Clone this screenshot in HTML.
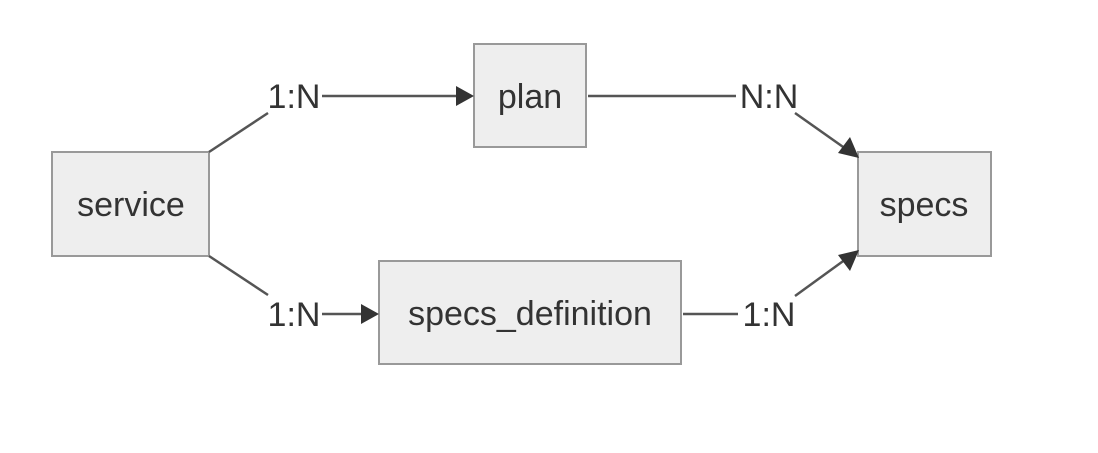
<!DOCTYPE html>
<html><head><style>
html,body{margin:0;padding:0;background:#fff;}
svg text{font-family:"Liberation Sans",sans-serif;fill:#333;}
</style></head><body>
<svg width="1098" height="448" viewBox="0 0 1098 448" xmlns="http://www.w3.org/2000/svg">
<g stroke="#999" stroke-width="2" fill="#eee">
<rect x="52" y="152" width="157" height="104"/>
<rect x="474" y="44" width="112" height="103"/>
<rect x="858" y="152" width="133" height="104"/>
<rect x="379" y="261" width="302" height="103"/>
</g>
<g stroke="#555" stroke-width="2.5" fill="none">
<polyline points="209,152 268,113"/>
<line x1="322" y1="96" x2="458" y2="96"/>
<line x1="588" y1="96" x2="736" y2="96"/>
<line x1="795" y1="113" x2="846" y2="149"/>
<polyline points="209,256 268,295"/>
<line x1="322" y1="314" x2="364" y2="314"/>
<line x1="683" y1="314" x2="738" y2="314"/>
<line x1="795" y1="296" x2="846" y2="259"/>
</g>
<g fill="#333">
<polygon points="474,96 456,86 456,106"/>
<polygon points="379,314 361,304 361,324"/>
<polygon points="859,158 838,153 850,137"/>
<polygon points="859,250 850,271 838,255"/>
</g>
<g font-size="34" text-anchor="middle">
<text x="131" y="216">service</text>
<text x="530" y="108">plan</text>
<text x="924" y="216">specs</text>
<text x="530" y="325">specs_definition</text>
<text x="294" y="108">1:N</text>
<text x="769" y="108">N:N</text>
<text x="294" y="326">1:N</text>
<text x="769" y="326">1:N</text>
</g>
</svg>
</body></html>
